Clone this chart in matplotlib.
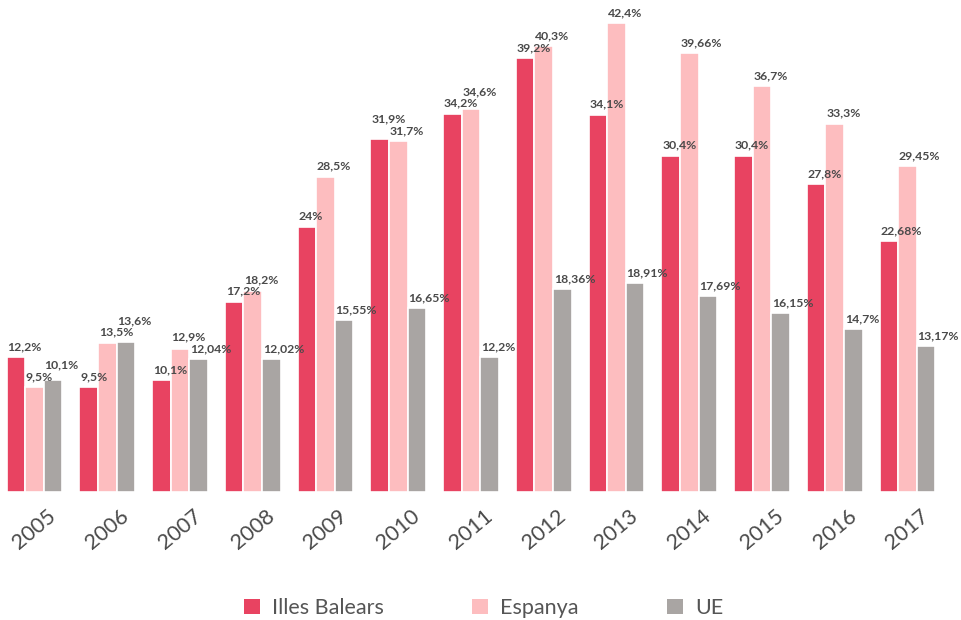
import matplotlib.pyplot as plt
from matplotlib.patches import Patch
import numpy as np

years = ['2005', '2006', '2007', '2008', '2009', '2010', '2011',
         '2012', '2013', '2014', '2015', '2016', '2017']
illes = [12.2, 9.5, 10.1, 17.2, 24, 31.9, 34.2, 39.2, 34.1, 30.4, 30.4, 27.8, 22.68]
espanya = [9.5, 13.5, 12.9, 18.2, 28.5, 31.7, 34.6, 40.3, 42.4, 39.66, 36.7, 33.3, 29.45]
ue = [10.1, 13.6, 12.04, 12.02, 15.55, 16.65, 12.2, 18.36, 18.91, 17.69, 16.15, 14.7, 13.17]
series_names = ['Illes Balears', 'Espanya', 'UE']
colors = ['#E84361', '#FDBDBF', '#A9A5A3']

fig = plt.figure(figsize=(9.61, 6.2), dpi=100)
ax = fig.add_axes([0, 128 / 620, 1, 492 / 620])

x = np.arange(len(years))
step = 0.255
gap = 0.45    # label distance above bar (data units)
lab_h = 1.05  # label height (data units)

series = [illes, espanya, ue]
for k, (vals, col) in enumerate(zip(series, colors)):
    ax.bar(x + (k - 1) * step, vals, width=step, color=col, edgecolor='white', linewidth=1.2)

# labels, taller bar's label pushed up when it hits the neighbour's label
for i in range(len(years)):
    vals = [s[i] for s in series]
    ys = [v + gap for v in vals]
    for a, b in [(0, 1), (1, 2)]:
        if abs(ys[a] - ys[b]) < lab_h:
            if vals[a] >= vals[b]:
                ys[a] = ys[b] + lab_h
            else:
                ys[b] = ys[a] + lab_h
    for k in range(3):
        p = x[i] + (k - 1) * step
        lab = f"{vals[k]:g}".replace('.', ',') + '%'
        ax.text(p - step / 2 + 0.01, ys[k], lab, ha='left', va='bottom',
                fontsize=8.8, fontweight='bold', color='#4a4a4a', family='Lato')

ax.set_xlim(-0.474, 12.735)
ax.set_ylim(0, 44.48)
for s in ax.spines.values():
    s.set_visible(False)
ax.set_yticks([])
ax.set_xticks(x)
ax.set_xticklabels(years, rotation=40, ha='center', fontsize=15.5,
                   color='#4a4a4a', family='Lato', fontweight='normal')
ax.tick_params(axis='x', length=0, pad=10)
for t in ax.get_xticklabels():
    t.set_x(t.get_position()[0] - 0.04)

handles = [Patch(facecolor=c, edgecolor='none') for c in colors]
leg = fig.legend(handles, series_names, loc='center',
                 bbox_to_anchor=(0.503, 1 - 608 / 620), ncol=3, frameon=False,
                 fontsize=15.5, handlelength=0.75, handleheight=0.75,
                 columnspacing=4.1, handletextpad=0.56)
for t in leg.get_texts():
    t.set_color('#555555')
    t.set_family('Lato')

fig.savefig('out.png', dpi=100)
